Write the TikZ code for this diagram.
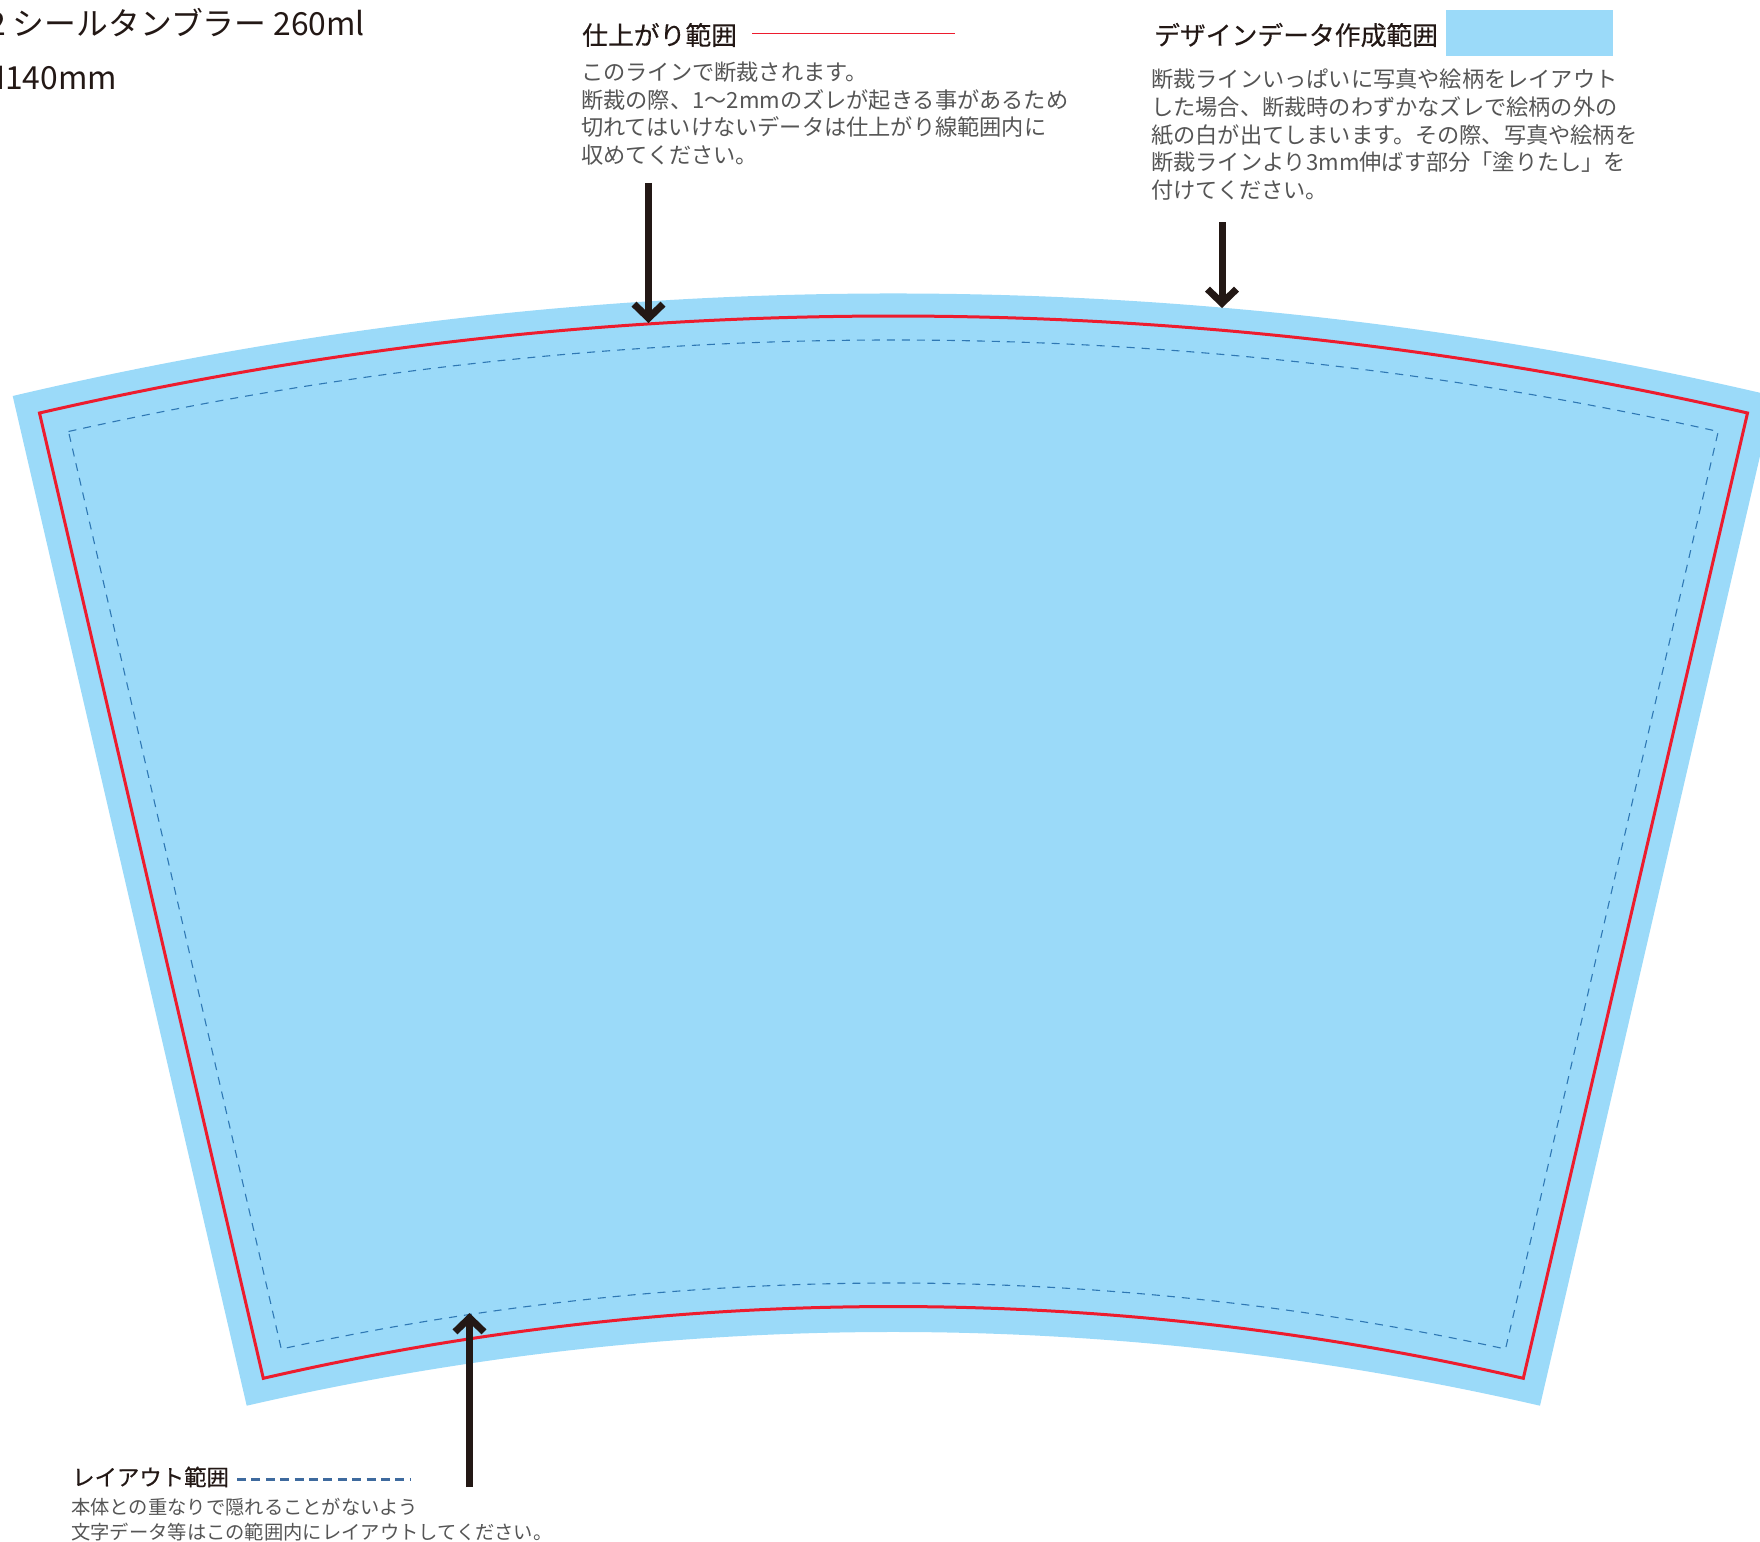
\documentclass[tikz,border=0pt]{standalone}
\usepackage{fontspec}
\setmainfont{Noto Sans CJK JP}
\newfontfamily\headfont[FakeBold=0.4]{Noto Sans CJK JP}
\usetikzlibrary{arrows, arrows.meta}

\definecolor{bleedblue}{HTML}{9BDAF9}
\definecolor{trimred}{HTML}{ED1C2E}
\definecolor{safeblue}{HTML}{2F78B4}
\definecolor{legenddash}{HTML}{3E6A9E}
\definecolor{inkdark}{HTML}{231815}
\definecolor{inkgray}{HTML}{555555}

\tikzset{
  title/.style={anchor=west, inner sep=0pt, text=inkdark, font=\fontsize{31.8}{32}\selectfont},
  heading/.style={anchor=west, inner sep=0pt, text=inkdark, font=\headfont\fontsize{25.8}{26}\selectfont},
  bodytext/.style={anchor=north west, inner sep=0pt, align=left, text=inkgray, font=\fontsize{22.2}{27.7}\selectfont},
  pointer/.style={line width=7pt, draw=inkdark, -{Straight Barb[length=14pt, width=29pt, line width=7pt]}}
}

\begin{document}
\begin{tikzpicture}[x=1pt, y=-1pt]
\useasboundingbox (0,0) rectangle (1760,1541);

\coordinate (bleedTL) at (12.7,396);
\coordinate (bleedTR) at (1773.9,396);
\coordinate (bleedBR) at (1540,1405.7);
\coordinate (bleedBL) at (246.7,1405.7);
\coordinate (trimTL) at (39.5,413);
\coordinate (trimTR) at (1747.5,413);
\coordinate (trimBR) at (1523.3,1378.3);
\coordinate (trimBL) at (263.3,1378.3);
\coordinate (safeTL) at (68.5,431.5);
\coordinate (safeTR) at (1718.2,431.5);
\coordinate (safeBR) at (1505.5,1349);
\coordinate (safeBL) at (281.3,1349);

\fill [bleedblue] (bleedTL) .. controls (593.7,259.3) and (1192.9,259.3) .. (bleedTR) -- (bleedBR) .. controls (1113.2,1307.4) and (673.5,1307.4) .. (bleedBL) -- cycle;
\draw [trimred, line width=3pt, line join=miter] (trimTL) .. controls (602.8,283.7) and (1183.7,283.7) .. (trimTR) -- (trimBR) .. controls (1107.5,1282.6) and (679.1,1282.6) .. (trimBL) -- cycle;
\draw [safeblue, line width=1.1pt, dash pattern=on 8pt off 7pt] (safeTL) .. controls (612.9,309.5) and (1173.8,309.5) .. (safeTR) -- (safeBR) .. controls (1101.5,1261) and (685.3,1261) .. (safeBL) -- cycle;

\node [title] (titlename) at (-12,23) {2 シールタンブラー 260ml};
\node [title] (titlesize) at (-18,78) {H140mm};

\node [heading] (trimhead) at (582,35) {仕上がり範囲};
\coordinate (trimsampleA) at (752,33.5);
\coordinate (trimsampleB) at (955,33.5);
\draw [trimred, line width=1.5pt] (trimsampleA) -- (trimsampleB);
\node [bodytext] (trimbody) at (581,61.5) {このラインで断裁されます。\\断裁の際、1〜2mmのズレが起きる事があるため\\切れてはいけないデータは仕上がり線範囲内に\\収めてください。};

\node [heading] (bleedhead) at (1154,35) {デザインデータ作成範囲};
\node [fill=bleedblue, inner sep=0pt, minimum width=167pt, minimum height=46pt, anchor=north west] (bleedswatch) at (1446,10) {};
\node [bodytext] (bleedbody) at (1151,69) {断裁ラインいっぱいに写真や絵柄をレイアウト\\した場合、断裁時のわずかなズレで絵柄の外の\\紙の白が出てしまいます。その際、写真や絵柄を\\断裁ラインより3mm伸ばす部分「塗りたし」を\\付けてください。};

\node [heading, font=\headfont\fontsize{22.4}{22.4}\selectfont] (safehead) at (72,1477) {レイアウト範囲};
\coordinate (safesampleA) at (237,1479);
\coordinate (safesampleB) at (411,1479);
\draw [legenddash, line width=3pt, dash pattern=on 9pt off 5.4pt] (safesampleA) -- (safesampleB);
\node [bodytext, font=\fontsize{19.3}{25}\selectfont] (safebody) at (71,1498) {本体との重なりで隠れることがないよう\\文字データ等はこの範囲内にレイアウトしてください。};

\coordinate (trimtail) at (648.5,183);
\coordinate (trimtip) at (648.5,323);
\coordinate (bleedtail) at (1222,222);
\coordinate (bleedtip) at (1222,308);
\coordinate (safetail) at (469.5,1487);
\coordinate (safetip) at (469.5,1313);
\draw [pointer] (trimtail) -- (trimtip);
\draw [pointer] (bleedtail) -- (bleedtip);
\draw [pointer] (safetail) -- (safetip);
\end{tikzpicture}
\end{document}
